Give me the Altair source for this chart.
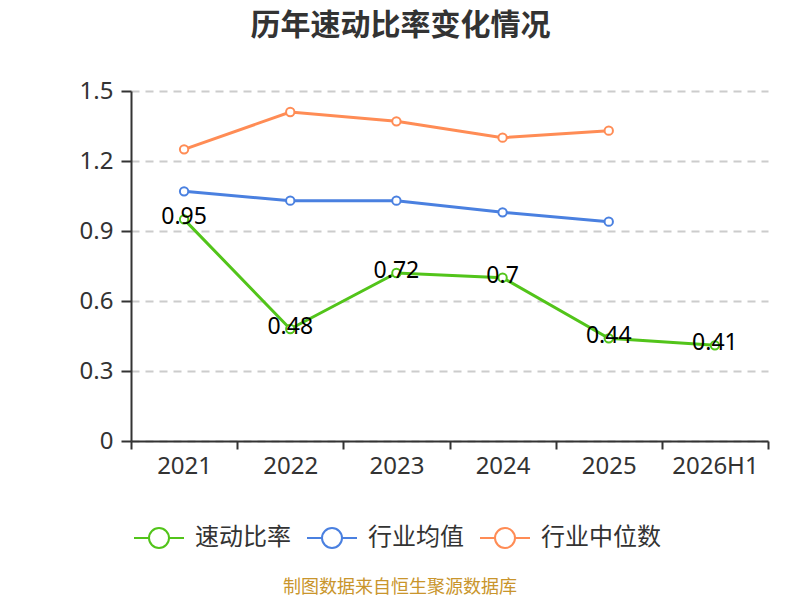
import altair as alt
import pandas as pd

years = ["2021", "2022", "2023", "2024", "2025", "2026H1"]
quick_ratio = [0.95, 0.48, 0.72, 0.70, 0.44, 0.41]
quick_labels = ["0.95", "0.48", "0.72", "0.7", "0.44", "0.41"]
industry_mean = [1.07, 1.03, 1.03, 0.98, 0.94]
industry_median = [1.25, 1.41, 1.37, 1.30, 1.33]
series_names = ["速动比率", "行业均值", "行业中位数"]
series_colors = ["#52c41a", "#4a80e0", "#ff8c55"]
y_ticks = [0, 0.3, 0.6, 0.9, 1.2, 1.5]
title_text = "历年速动比率变化情况"
source_text = "制图数据来自恒生聚源数据库"

rows = []
for yr, v, lab in zip(years, quick_ratio, quick_labels):
    rows.append({"year": yr, "value": v, "series": series_names[0], "label": lab})
for yr, v in zip(years, industry_mean):
    rows.append({"year": yr, "value": v, "series": series_names[1], "label": ""})
for yr, v in zip(years, industry_median):
    rows.append({"year": yr, "value": v, "series": series_names[2], "label": ""})
df = pd.DataFrame(rows)

CJK = "Noto Sans CJK SC"
LAT = "Noto Sans"

x_enc = alt.X(
    "year:N",
    sort=years,
    title=None,
    bandPosition=0.5,
    scale=alt.Scale(type="band", paddingInner=0, paddingOuter=0),
    axis=alt.Axis(
        tickBand="extent",
        labelAngle=0,
        labelFont=LAT,
        labelFontSize=24,
        labelColor="#333333",
        labelPadding=5,
        domainColor="#333333",
        domainWidth=2,
        tickColor="#333333",
        tickWidth=2,
        tickSize=8,
        grid=False,
    ),
)
y_enc = alt.Y(
    "value:Q",
    title=None,
    scale=alt.Scale(domain=[0, 1.5], nice=False, zero=True),
    axis=alt.Axis(
        values=y_ticks,
        format=".1~f",
        labelFont=LAT,
        labelFontSize=24,
        labelColor="#333333",
        labelPadding=8,
        domainColor="#333333",
        domainWidth=2,
        tickColor="#333333",
        tickWidth=2,
        tickSize=10,
        grid=True,
        gridColor="#cccccc",
        gridWidth=2,
        gridDash=[8, 6],
    ),
)

color_enc = alt.Color(
    "series:N",
    sort=series_names,
    scale=alt.Scale(domain=series_names, range=series_colors),
    legend=alt.Legend(
        title=None,
        orient="none",
        direction="horizontal",
        legendX=16,
        legendY=435,
        symbolType="M-2.5,0L-1,0M1,0L2.5,0M1,0A1,1,0,1,1,-1,0A1,1,0,1,1,1,0",
        symbolSize=400,
        symbolStrokeWidth=2,
        symbolFillColor="white",
        labelFont=CJK,
        labelFontSize=24,
        labelColor="#333333",
        labelOffset=24,
        columnPadding=12,
        padding=0,
    ),
)

lines = alt.Chart(df).mark_line(
    strokeWidth=3,
    point=alt.OverlayMarkDef(filled=False, fill="white", size=70, strokeWidth=2),
).encode(x=x_enc, y=y_enc, color=color_enc)

labels = alt.Chart(df).transform_filter(
    alt.datum.series == series_names[0]
).mark_text(
    font=LAT, fontSize=23, color="#000000", baseline="middle", align="center", dy=-2
).encode(x=x_enc, y=y_enc, text="label:N")

source = alt.Chart(pd.DataFrame({"t": [source_text]})).mark_text(
    font=CJK, fontSize=18, color="#c9952c", align="center", baseline="middle"
).encode(x=alt.value(269), y=alt.value(497), text="t:N")

chart = alt.layer(lines, labels, source).properties(
    width=637,
    height=350,
    padding={"left": 123, "top": 83, "right": 24, "bottom": 170},
    autosize=alt.AutoSizeParams(type="none"),
    title=alt.TitleParams(
        title_text,
        font=CJK,
        fontSize=30,
        fontWeight="bold",
        color="#333333",
        anchor="middle",
        dx=-49,
        offset=38,
    ),
).configure_view(stroke=None)

chart.save("out.html", embed_options={"renderer": "svg", "actions": False})
